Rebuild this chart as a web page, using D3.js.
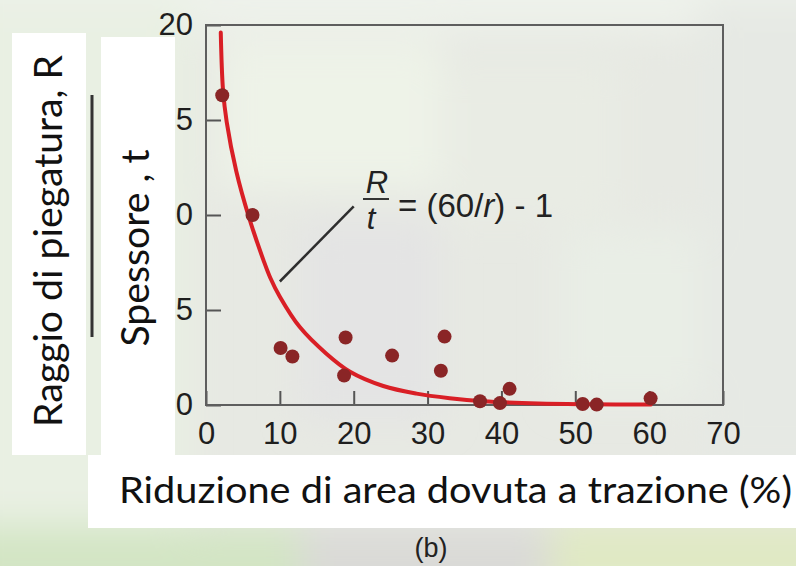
<!DOCTYPE html>
<html>
<head>
<meta charset="utf-8">
<script src="https://cdn.jsdelivr.net/npm/d3@7"></script>
<style>
  html, body { margin: 0; padding: 0; background: #e8ebe3; }
  svg { display: block; }
</style>
</head>
<body>
<div id="chart"></div>
<script>
// measured points (reduction of area %, R/t)
var pointX = [2.2, 6.3, 10.1, 11.7, 18.9, 18.7, 25.2, 32.3, 31.8, 37.1, 39.8, 41.1, 51.0, 52.9, 60.2];
var pointY = [16.3, 10.0, 3.0, 2.55, 3.55, 1.55, 2.6, 3.6, 1.8, 0.2, 0.1, 0.85, 0.05, 0.02, 0.35];

// fitted curve
var curveX = [2.0, 2.3, 2.8, 4.1, 5.8, 7.8, 8.7, 10.0, 12.7, 16.3, 19.5, 24.0, 28.5, 33.0, 37.5, 45.0, 52.0, 60.2];
var curveY = [19.6, 16.6, 14.9, 12.3, 9.9, 7.6, 6.7, 5.7, 4.1, 2.7, 1.75, 1.0, 0.6, 0.36, 0.2, 0.08, 0.04, 0.02];

var xTicks = [0, 10, 20, 30, 40, 50, 60, 70];
var yTicks = [0, 5, 10, 15, 20];

// leader line for the formula label
var leaderX = [10.0, 20.0];
var leaderY = [6.5, 10.45];

var W = 796, H = 566;

var svg = d3.select("#chart").append("svg")
    .attr("width", W)
    .attr("height", H);

// blurry background
var defs = svg.append("defs");
defs.append("filter").attr("id", "blur")
    .attr("x", "-20%").attr("y", "-20%").attr("width", "140%").attr("height", "140%")
  .append("feGaussianBlur").attr("stdDeviation", 18);

svg.append("rect").attr("width", W).attr("height", H).attr("fill", "#e7e9e3");
var bg = svg.append("g").attr("filter", "url(#blur)");
var blobs = [
  [-40, -40, 880, 70, "#eef2eb"],
  [-40, 0, 230, 560, "#e9f0e3"],
  [220, 40, 220, 150, "#eef3e8"],
  [440, 60, 180, 160, "#e9ece4"],
  [300, 220, 140, 200, "#e4e4e4"],
  [560, 230, 160, 170, "#e9eee6"],
  [700, 0, 140, 470, "#e6e9e4"],
  [-40, 525, 340, 80, "#d3e5c4"],
  [300, 525, 250, 80, "#dadad7"],
  [550, 520, 290, 90, "#e0e9c4"]
];
bg.selectAll("rect").data(blobs).enter().append("rect")
    .attr("x", function(d) { return d[0]; })
    .attr("y", function(d) { return d[1]; })
    .attr("width", function(d) { return d[2]; })
    .attr("height", function(d) { return d[3]; })
    .attr("fill", function(d) { return d[4]; });

var x = d3.scaleLinear().domain([0, 70]).range([206, 723]);
var y = d3.scaleLinear().domain([0, 20]).range([405, 25]);

var tickFont = "'Liberation Sans', Arial, sans-serif";

// axes with inward ticks
var xAxis = d3.axisBottom(x).tickValues(xTicks).tickSizeInner(-14).tickSizeOuter(0).tickPadding(17);
var yAxis = d3.axisLeft(y).tickValues(yTicks).tickSizeInner(-15).tickSizeOuter(0).tickPadding(13);

var gx = svg.append("g")
    .attr("transform", "translate(0," + y(0) + ")")
    .call(xAxis);
var gy = svg.append("g")
    .attr("transform", "translate(" + x(0) + ",0)")
    .call(yAxis);

[gx, gy].forEach(function(g) {
  g.select(".domain").remove();
  g.selectAll("line").attr("stroke", "#555").attr("stroke-width", 2);
  g.selectAll("text")
      .attr("fill", "#1e1e1e")
      .style("font-family", tickFont)
      .style("font-size", "31px");
});

// frame
svg.append("rect")
    .attr("x", x(0)).attr("y", y(20))
    .attr("width", x(70) - x(0)).attr("height", y(0) - y(20))
    .attr("fill", "none")
    .attr("stroke", "#5e5e5e")
    .attr("stroke-width", 2);

// fitted curve
var curveData = curveX.map(function(v, i) { return [v, curveY[i]]; });
var line = d3.line()
    .x(function(d) { return x(d[0]); })
    .y(function(d) { return y(d[1]); })
    .curve(d3.curveCatmullRom.alpha(0.5));

svg.append("path")
    .datum(curveData)
    .attr("d", line)
    .attr("fill", "none")
    .attr("stroke", "#d91f26")
    .attr("stroke-width", 4)
    .attr("stroke-linecap", "round");

// points
var pts = pointX.map(function(v, i) { return {x: v, y: pointY[i]}; });
svg.selectAll(".dot")
    .data(pts)
  .enter().append("circle")
    .attr("class", "dot")
    .attr("r", 7)
    .attr("cx", function(d) { return x(d.x); })
    .attr("cy", function(d) { return y(d.y); })
    .attr("fill", "#8a2526");

// leader line + formula
svg.append("line")
    .attr("x1", x(leaderX[0])).attr("y1", y(leaderY[0]))
    .attr("x2", x(leaderX[1])).attr("y2", y(leaderY[1]))
    .attr("stroke", "#2e2e2e")
    .attr("stroke-width", 2.5);

var eq = svg.append("g")
    .style("font-family", tickFont)
    .attr("fill", "#222");
eq.append("text")
    .attr("x", 377).attr("y", 193)
    .attr("text-anchor", "middle")
    .style("font-size", "31px").style("font-style", "italic")
    .text("R");
eq.append("line")
    .attr("x1", 363).attr("x2", 389).attr("y1", 199).attr("y2", 199)
    .attr("stroke", "#333").attr("stroke-width", 2);
eq.append("text")
    .attr("x", 371).attr("y", 229)
    .attr("text-anchor", "middle")
    .style("font-size", "31px").style("font-style", "italic")
    .text("t");
var rhs = eq.append("text")
    .attr("x", 398).attr("y", 217)
    .style("font-size", "33px");
rhs.append("tspan").text("= (60/");
rhs.append("tspan").style("font-style", "italic").text("r");
rhs.append("tspan").text(") - 1");

// white label boxes laid over the figure
var labelFont = "Lato, 'Open Sans', sans-serif";
svg.append("rect").attr("x", 12).attr("y", 33).attr("width", 74).attr("height", 422).attr("fill", "#fff");
svg.append("rect").attr("x", 101).attr("y", 37).attr("width", 74).attr("height", 418).attr("fill", "#fff");
svg.append("rect").attr("x", 88).attr("y", 455).attr("width", 708).attr("height", 73).attr("fill", "#fff");

// fraction bar between the two y titles
svg.append("line")
    .attr("x1", 92).attr("x2", 92).attr("y1", 95).attr("y2", 337)
    .attr("stroke", "#333").attr("stroke-width", 3);

svg.append("text")
    .attr("transform", "translate(62,241) rotate(-90)")
    .attr("text-anchor", "middle")
    .attr("textLength", 372).attr("lengthAdjust", "spacingAndGlyphs")
    .style("font-family", labelFont).style("font-size", "38px")
    .attr("fill", "#111")
    .text("Raggio di piegatura, R");

svg.append("text")
    .attr("transform", "translate(149,248) rotate(-90)")
    .attr("text-anchor", "middle")
    .attr("textLength", 197).attr("lengthAdjust", "spacingAndGlyphs")
    .style("font-family", labelFont).style("font-size", "38px")
    .attr("fill", "#111")
    .text("Spessore , t");

svg.append("text")
    .attr("x", 119).attr("y", 503)
    .attr("textLength", 673).attr("lengthAdjust", "spacingAndGlyphs")
    .style("font-family", labelFont).style("font-size", "37px")
    .attr("fill", "#111")
    .text("Riduzione di area dovuta a trazione (%)");

svg.append("text")
    .attr("x", 431).attr("y", 557)
    .attr("text-anchor", "middle")
    .style("font-family", tickFont).style("font-size", "27px")
    .attr("fill", "#222")
    .text("(b)");
</script>
</body>
</html>
